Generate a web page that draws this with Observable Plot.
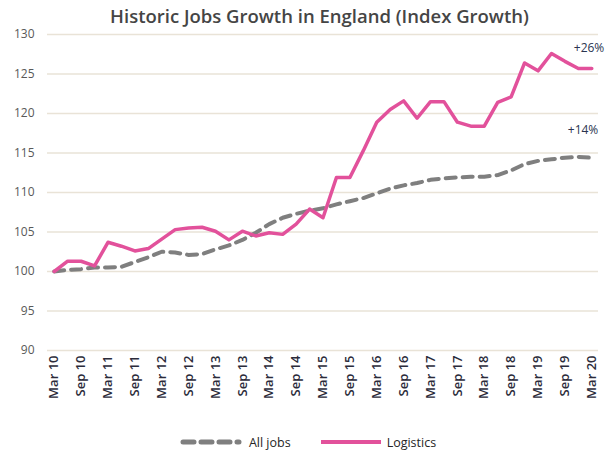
<!DOCTYPE html>
<html>
<head>
<meta charset="utf-8">
<script src="https://cdn.jsdelivr.net/npm/d3@7"></script>
<script src="https://cdn.jsdelivr.net/npm/@observablehq/plot@0.6"></script>
<style>
  body { margin: 0; background: #fff; font-family: "Open Sans", sans-serif; }
  #wrap { width: 609px; height: 457px; position: relative; overflow: hidden; }
  #title { height: 22px; line-height: 32px; text-align: center; font-size: 18.5px; font-weight: 600; color: #454545; padding-left: 30px; white-space: nowrap; }
  #legend { display: flex; justify-content: center; align-items: center; gap: 8px; font-size: 12.5px; color: #262626; height: 30px; padding-left: 6px; }
  #legend span { display: inline-flex; align-items: center; gap: 6px; }
</style>
</head>
<body>
<div id="wrap">
  <div id="title">Historic Jobs Growth in England (Index Growth)</div>
  <div id="chart"></div>
  <div id="legend"></div>
</div>
<script>
const quarters = [
  "Mar 10","Jun 10","Sep 10","Dec 10",
  "Mar 11","Jun 11","Sep 11","Dec 11",
  "Mar 12","Jun 12","Sep 12","Dec 12",
  "Mar 13","Jun 13","Sep 13","Dec 13",
  "Mar 14","Jun 14","Sep 14","Dec 14",
  "Mar 15","Jun 15","Sep 15","Dec 15",
  "Mar 16","Jun 16","Sep 16","Dec 16",
  "Mar 17","Jun 17","Sep 17","Dec 17",
  "Mar 18","Jun 18","Sep 18","Dec 18",
  "Mar 19","Jun 19","Sep 19","Dec 19",
  "Mar 20"
];
const tickLabels = [
  "Mar 10","Sep 10","Mar 11","Sep 11","Mar 12","Sep 12","Mar 13","Sep 13",
  "Mar 14","Sep 14","Mar 15","Sep 15","Mar 16","Sep 16","Mar 17","Sep 17",
  "Mar 18","Sep 18","Mar 19","Sep 19","Mar 20"
];
const allJobs = [
  100.0, 100.2, 100.3, 100.5,
  100.5, 100.6, 101.2, 101.8,
  102.5, 102.4, 102.1, 102.2,
  102.8, 103.3, 104.0, 104.9,
  106.0, 106.8, 107.3, 107.7,
  108.0, 108.5, 108.9, 109.3,
  109.9, 110.5, 110.9, 111.2,
  111.6, 111.8, 111.9, 112.0,
  112.0, 112.2, 112.8, 113.6,
  114.0, 114.2, 114.4, 114.5,
  114.4
];
const logistics = [
  100.0, 101.3, 101.3, 100.7,
  103.7, 103.2, 102.6, 102.9,
  104.1, 105.3, 105.5, 105.6,
  105.1, 104.0, 105.1, 104.5,
  104.9, 104.7, 106.0, 107.9,
  106.8, 111.9, 111.9, 115.3,
  118.9, 120.5, 121.6, 119.4,
  121.5, 121.5, 118.9, 118.4,
  118.4, 121.4, 122.1, 126.4,
  125.4, 127.6, 126.6, 125.7,
  125.7
];
const yTicks = [90, 95, 100, 105, 110, 115, 120, 125, 130];
const endLabels = ["+14%", "+26%"];

const jobsRows = quarters.map((q, i) => ({quarter: q, value: allJobs[i]}));
const logRows = quarters.map((q, i) => ({quarter: q, value: logistics[i]}));
const last = quarters.length - 1;

const pink = "#e2519b";
const gray = "#7f7f7f";

const chart = Plot.plot({
  width: 609,
  height: 405,
  marginLeft: 47,
  marginRight: 11,
  marginTop: 12,
  marginBottom: 77,
  style: {fontFamily: "Open Sans, sans-serif", background: "#fff", overflow: "visible"},
  x: {type: "point", domain: quarters, padding: 0.5, round: false, label: null},
  y: {domain: [90, 130], label: null},
  marks: [
    Plot.ruleY(yTicks, {stroke: "#e9e3d7", strokeWidth: 1.3}),
    Plot.axisY({ticks: yTicks, tickSize: 0, tickPadding: 13, fontSize: 12, color: "#595959", label: null}),
    Plot.axisX({ticks: tickLabels, tickSize: 0, tickPadding: 5, tickRotate: -90, fontSize: 13, fontWeight: 600, color: "#2b2b3a", label: null}),
    Plot.line(jobsRows, {
      x: "quarter", y: "value", stroke: gray, strokeWidth: 4,
      strokeDasharray: "10,7", strokeLinecap: "round"
    }),
    Plot.line(logRows, {
      x: "quarter", y: "value", stroke: pink, strokeWidth: 3.5
    }),
    Plot.text([jobsRows[last]], {x: "quarter", y: "value", text: [endLabels[0]], dy: -28, dx: -24,
      fontSize: 12, fill: "#2a3450", textAnchor: "start"}),
    Plot.text([logRows[last]], {x: "quarter", y: "value", text: [endLabels[1]], dy: -20, dx: -18,
      fontSize: 12, fill: "#2a3450", textAnchor: "start"}),
  ]
});
document.getElementById("chart").appendChild(chart);

const legend = document.getElementById("legend");
legend.innerHTML = `
  <span><svg width="64" height="10"><line x1="4" y1="5" x2="60" y2="5" stroke="${gray}" stroke-width="5" stroke-dasharray="11,7" stroke-linecap="round"/></svg>All jobs</span>
  <span style="margin-left:22px"><svg width="60" height="10"><line x1="0" y1="5" x2="60" y2="5" stroke="${pink}" stroke-width="4"/></svg>Logistics</span>`;
</script>
</body>
</html>
